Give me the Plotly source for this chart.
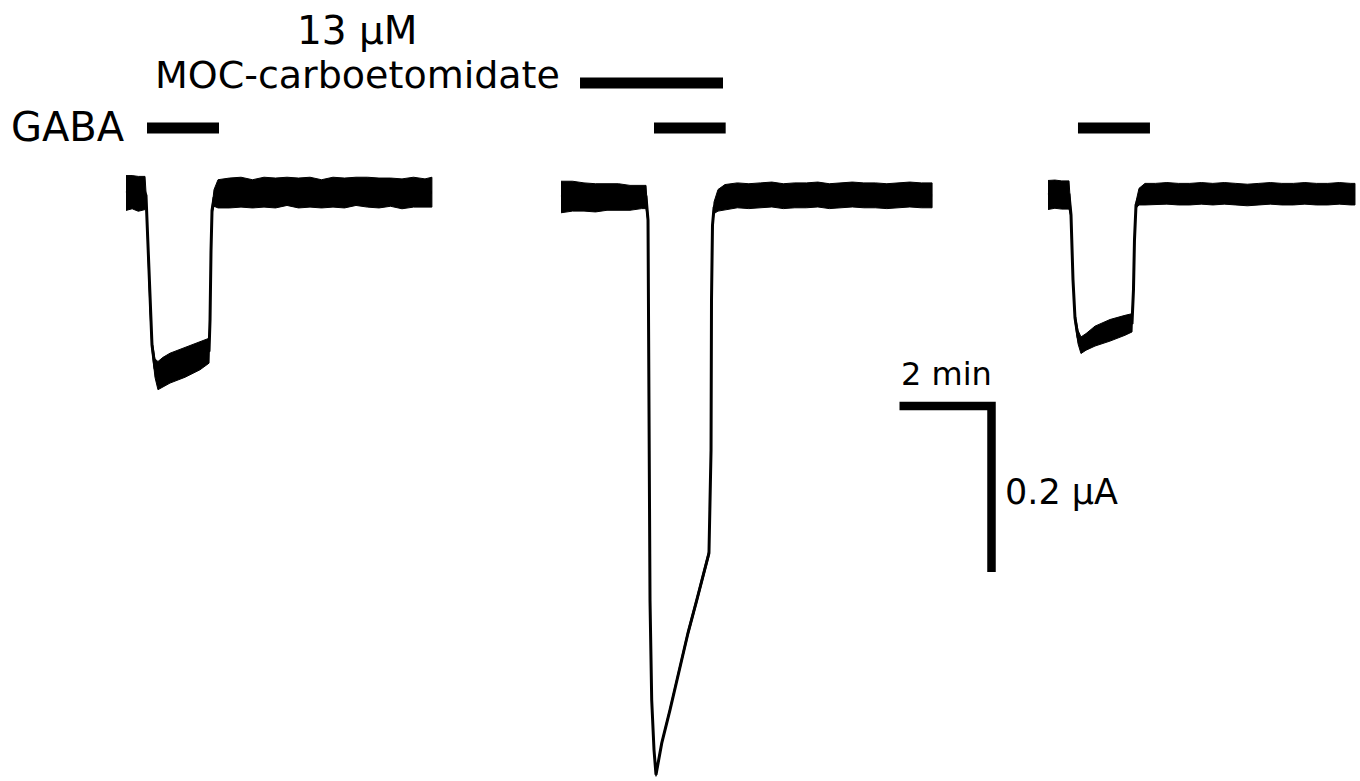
import plotly.graph_objects as go

# ---------------------------------------------------------------------------
# Recorded currents (two-electrode voltage clamp), three sweeps.
# time in s from sweep start, current in µA relative to holding level,
# noise = half peak-to-peak amplitude of the recording noise band (µA)
# ---------------------------------------------------------------------------
t_gaba1 = [0, 8, 16, 24.8, 26.1, 28.7, 31.3, 33.9, 37.8, 41.7, 48.3, 57.4, 77.0, 96.5,
           108.3, 109.6, 110.9, 112.2, 114.8, 120.0, 135, 150, 165, 180, 195, 210, 225,
           240, 255, 270, 285, 300, 315, 330, 345, 360, 375, 390, 399]
i_gaba1 = [0.000, 0.001, -0.001, 0.000, -0.003, -0.069, -0.141, -0.183, -0.211, -0.220,
           -0.216, -0.211, -0.204, -0.196, -0.190, -0.153, -0.069, -0.021, -0.006, -0.001,
           0.000, 0.001, -0.001, 0.001, 0.000, 0.002, 0.000, 0.001, -0.001, 0.001, 0.000,
           0.002, 0.001, 0.000, 0.001, -0.001, 0.001, 0.000, 0.001]
n_gaba1 = [0.021, 0.020, 0.021, 0.020, 0.004, 0.003, 0.003, 0.006, 0.011, 0.017, 0.018,
           0.018, 0.018, 0.017, 0.015, 0.003, 0.003, 0.004, 0.010, 0.017, 0.018, 0.018,
           0.017, 0.018, 0.018, 0.017, 0.018, 0.018, 0.017, 0.018, 0.018, 0.017, 0.018,
           0.018, 0.017, 0.018, 0.018, 0.017, 0.018]

t_moc = [0, 15, 30, 45, 60, 75, 90, 105, 110.9, 113.5, 115.2, 116.1, 118.3, 121.3, 123.9,
         131.4, 142.2, 155.2, 165.7, 177.0, 185.2, 193.0, 195.7, 196.3, 197.6, 199.6,
         204.8, 213.9, 230, 245, 260, 275, 290, 305, 320, 335, 350, 365, 380, 395, 410,
         425, 440, 455, 470, 484]
i_moc = [0.000, 0.001, 0.000, -0.001, 0.000, 0.000, -0.001, 0.000, 0.000, -0.028, -0.365,
         -0.486, -0.606, -0.666, -0.696, -0.658, -0.618, -0.566, -0.525, -0.486, -0.458,
         -0.429, -0.305, -0.124, -0.034, -0.013, -0.004, 0.000, 0.002, 0.001, 0.002, 0.003,
         0.001, 0.002, 0.002, 0.003, 0.001, 0.002, 0.003, 0.002, 0.002, 0.001, 0.002,
         0.003, 0.002, 0.002]
n_moc = [0.019, 0.018, 0.017, 0.017, 0.016, 0.016, 0.015, 0.014, 0.014, 0.002, 0.002,
         0.002, 0.002, 0.002, 0.002, 0.002, 0.003, 0.0035, 0.0035, 0.0035, 0.004, 0.004,
         0.002, 0.002, 0.002, 0.007, 0.013, 0.015, 0.015, 0.015, 0.015, 0.015, 0.015,
         0.015, 0.015, 0.015, 0.015, 0.015, 0.015, 0.015, 0.015, 0.015, 0.015, 0.015,
         0.015, 0.015]

t_gaba2 = [0, 9, 18, 27.4, 30.0, 32.6, 35.2, 39.1, 43.0, 49.6, 61.3, 80.9, 100.4, 109.6,
           111.5, 112.8, 114.8, 118.7, 126.5, 140, 155, 170, 185, 200, 215, 230, 245, 260,
           275, 290, 305, 320, 335, 350, 365, 380, 395, 400.4]
i_gaba2 = [0.000, 0.001, 0.000, 0.000, -0.024, -0.102, -0.148, -0.171, -0.181, -0.177,
           -0.170, -0.163, -0.157, -0.154, -0.114, -0.054, -0.012, -0.002, 0.001, 0.001,
           0.002, 0.001, 0.001, 0.002, 0.001, 0.002, 0.001, 0.000, 0.001, 0.002, 0.001,
           0.001, 0.002, 0.001, 0.001, 0.002, 0.001, 0.001]
n_gaba2 = [0.0175, 0.017, 0.017, 0.017, 0.003, 0.003, 0.005, 0.008, 0.010, 0.010, 0.012,
           0.013, 0.012, 0.011, 0.003, 0.003, 0.004, 0.010, 0.013, 0.013, 0.013, 0.013,
           0.013, 0.013, 0.013, 0.013, 0.013, 0.013, 0.013, 0.013, 0.013, 0.013, 0.013,
           0.013, 0.013, 0.013, 0.013, 0.013]

# drug application periods (s, relative to each sweep start)
gaba_periods = [(27.4, 121.3), (121.3, 214.8), (39.1, 133.0)]
moc_period = (24.8, 211.3)

# scale bar sizes
scale_time_s = 120
scale_current_ua = 0.2

# ---------------------------------------------------------------------------
# Layout
# ---------------------------------------------------------------------------
W, H = 1360, 781
PX_PER_S = 46 / 60      # horizontal scale
PX_PER_UA = 830         # vertical scale


def sx(px):
    return px / PX_PER_S


def sy(py):
    return -py / PX_PER_UA


# (left edge, holding-level row) of each sweep on the page
sweep_origin = [(126, 193), (561, 197), (1048, 195)]
sweeps = [(t_gaba1, i_gaba1, n_gaba1), (t_moc, i_moc, n_moc), (t_gaba2, i_gaba2, n_gaba2)]

fig = go.Figure()

for (ox, oy), (t, cur, noise) in zip(sweep_origin, sweeps):
    x = [sx(ox) + v for v in t]
    mid = [sy(oy) + c for c in cur]
    upper = [m + n for m, n in zip(mid, noise)]
    lower = [m - n for m, n in zip(mid, noise)]
    # noise band
    fig.add_trace(go.Scatter(
        x=x + x[::-1], y=upper + lower[::-1], mode="lines", fill="toself",
        fillcolor="black", line=dict(color="black", width=1),
        hoverinfo="skip", showlegend=False))
    # mean current
    fig.add_trace(go.Scatter(
        x=x, y=mid, mode="lines", line=dict(color="black", width=3),
        showlegend=False))

# application bars
BAR_W = 11
gaba_row = sy(128)
moc_row = sy(83)
for (ox, _), (a, b) in zip(sweep_origin, gaba_periods):
    fig.add_shape(type="line", xref="x", yref="y",
                  x0=sx(ox) + a, x1=sx(ox) + b, y0=gaba_row, y1=gaba_row,
                  line=dict(color="black", width=BAR_W))
ox2 = sweep_origin[1][0]
fig.add_shape(type="line", xref="x", yref="y",
              x0=sx(ox2) + moc_period[0], x1=sx(ox2) + moc_period[1],
              y0=moc_row, y1=moc_row, line=dict(color="black", width=BAR_W))

# scale bar (corner at top right)
cx, cy = sx(991.5), sy(406)
fig.add_shape(type="path", xref="x", yref="y",
              path=f"M {cx - scale_time_s},{cy} L {cx},{cy} L {cx},{cy - scale_current_ua}",
              line=dict(color="black", width=8.5))

FONT = "DejaVu Sans"


def label(text, px, py, size, xanchor="center"):
    fig.add_annotation(text=text, x=px / W, y=1 - py / H, xref="paper", yref="paper",
                       xanchor=xanchor, yanchor="middle", showarrow=False,
                       font=dict(family=FONT, size=size, color="black"))


label("13 µM", 357, 31, 39)
label("MOC-carboetomidate", 357, 75, 38)
label("GABA", 127, 127, 40, xanchor="right")
label("2 min", 899, 374, 32, xanchor="left")
label("0.2 µA", 1003, 492, 35, xanchor="left")

fig.update_layout(
    width=W, height=H, margin=dict(l=0, r=0, t=0, b=0),
    paper_bgcolor="white", plot_bgcolor="white", showlegend=False,
    xaxis=dict(range=[0, sx(W)], visible=False, showgrid=False, zeroline=False),
    yaxis=dict(range=[sy(H), 0], visible=False, showgrid=False, zeroline=False),
)

fig.write_html("out.html")
